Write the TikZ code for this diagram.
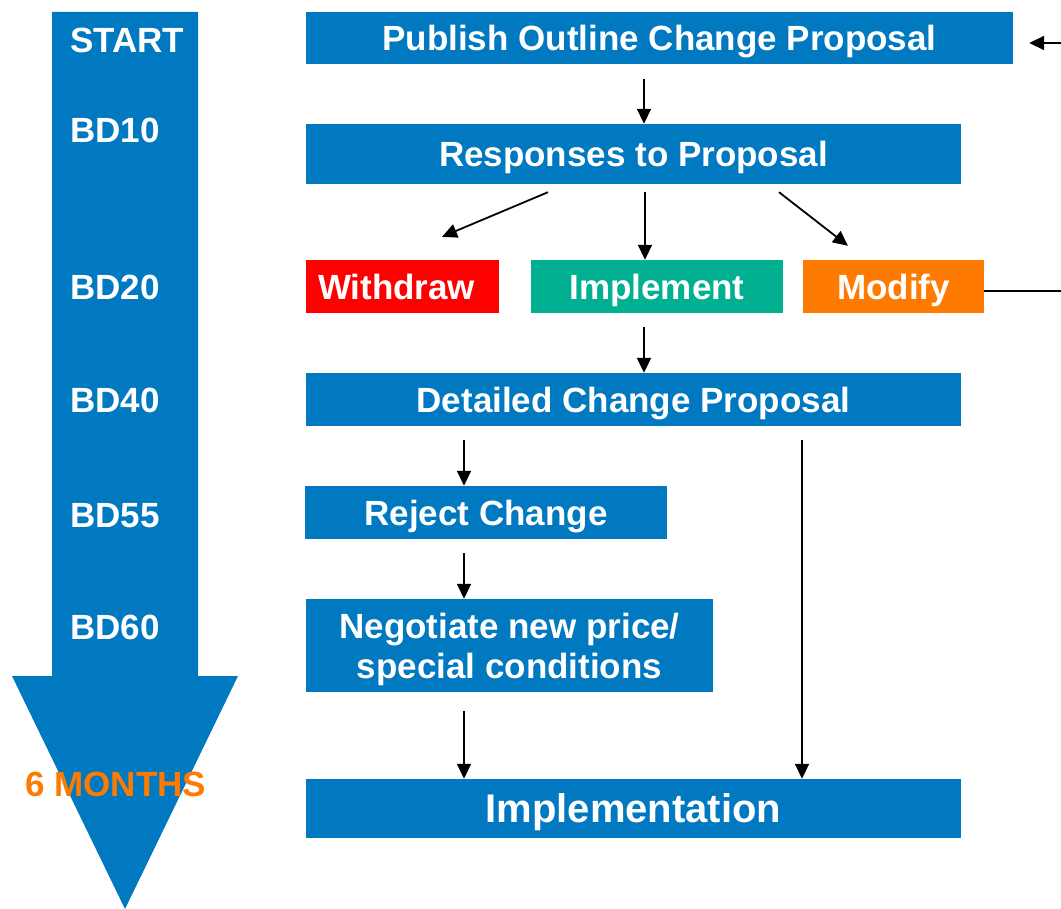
\documentclass[tikz,border=0pt]{standalone}
\usepackage{fontspec}
\setmainfont{Liberation Sans}
\usetikzlibrary{arrows.meta}
\definecolor{cblue}{RGB}{0,121,193}
\definecolor{cgreen}{RGB}{0,176,144}
\definecolor{corange}{RGB}{255,122,0}
\definecolor{cred}{RGB}{255,0,0}
\begin{document}
\begin{tikzpicture}[x=1pt,y=-1pt,
  boxbase/.style={fill=#1, text=white, inner sep=0pt, font=\fontsize{35}{40}\selectfont\bfseries},
  caps/.style={text height=25.06pt, text depth=0pt},
  box/.style={boxbase=#1, caps},
  lbl/.style={text=white, anchor=west, inner sep=0pt, font=\fontsize{35}{40}\selectfont\bfseries, caps},
  arr/.style={draw=black, line width=1.8pt, -{Triangle[length=15pt,width=14pt]}},
  plain/.style={draw=black, line width=1.8pt}
]
\useasboundingbox (0,0) rectangle (1061,909);
% time arrow
\fill[cblue] (52,12) -- (198,12) -- (198,676) -- (238,676) -- (125,909) -- (12,676) -- (52,676) -- cycle;
\node[lbl] (lstart) at (70,40) {START};
\node[lbl] (lbd10) at (70,129.5) {BD10};
\node[lbl] (lbd20) at (70,287) {BD20};
\node[lbl] (lbd40) at (70,400) {BD40};
\node[lbl] (lbd55) at (70,515) {BD55};
\node[lbl] (lbd60) at (70,627) {BD60};
\node[lbl, text=corange] (lsix) at (25,784) {6 MONTHS};
% boxes
\node[box=cblue, minimum width=707pt, minimum height=52.5pt] (pub) at (659.5,38.25) {Publish Outline Change Proposal};
\node[box=cblue, minimum width=655pt, minimum height=60pt] (resp) at (633.5,154) {Responses to Proposal};
\node[box=cred, minimum height=53pt, text width=169pt, align=left, inner xsep=12pt] (wd) at (402.5,286.5) {Withdraw};
\node[box=cgreen, minimum width=252pt, minimum height=53pt] (impl) at (657,286.5) {Implement};
\node[box=corange, minimum width=181pt, minimum height=53pt] (mod) at (893.5,286.5) {Modify};
\node[box=cblue, minimum width=655pt, minimum height=53pt] (det) at (633.5,399.5) {Detailed Change Proposal};
\node[box=cblue, minimum width=362pt, minimum height=53pt] (rej) at (486,512.5) {Reject Change};
\node[boxbase=cblue, minimum width=407pt, minimum height=93pt, align=center] (neg) at (509.5,645.5) {\rule{0pt}{32.4pt}Negotiate new price/\\special conditions};
\node[boxbase=cblue, font=\fontsize{40}{46}\selectfont\bfseries, text height=28.64pt, text depth=0pt, minimum width=655pt, minimum height=59pt] (implt) at (633.5,808.5) {Implementation};
% free ends
\coordinate (mout) at (1061,291);
\coordinate (pin) at (1061,43);
% connectors
\draw[arr] ([xshift=-15.5pt,yshift=-14.5pt]pub.south) -- ([xshift=10.5pt]resp.north);
\draw[arr] ([xshift=-85.5pt,yshift=-8pt]resp.south) -- ([xshift=39.5pt,yshift=23pt]wd.north);
\draw[arr] ([xshift=11.5pt,yshift=-8pt]resp.south) -- ([xshift=-12pt]impl.north);
\draw[arr] ([xshift=145.5pt,yshift=-8pt]resp.south) -- ([xshift=-45.5pt,yshift=14pt]mod.north);
\draw[arr] ([xshift=-13pt,yshift=-14pt]impl.south) -- ([xshift=10.5pt]det.north);
\draw[arr] ([xshift=-169.5pt,yshift=-14pt]det.south) -- ([xshift=-22pt]rej.north);
\draw[arr] ([xshift=-22pt,yshift=-14pt]rej.south) -- ([xshift=-45.5pt]neg.north);
\draw[arr] ([xshift=-45.5pt,yshift=-19pt]neg.south) -- ([xshift=-169.5pt]implt.north);
\draw[arr] ([xshift=168.5pt,yshift=-14pt]det.south) -- ([xshift=168.5pt]implt.north);
\draw[plain] ([yshift=-4.5pt]mod.east) -- (mout);
\draw[arr] (pin) -- ([xshift=16pt,yshift=-4.75pt]pub.east);
\end{tikzpicture}
\end{document}
